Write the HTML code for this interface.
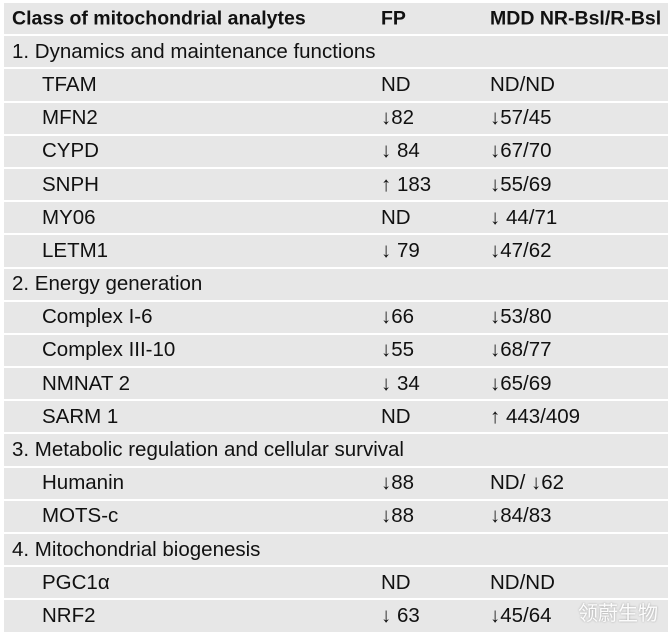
<!DOCTYPE html>
<html><head><meta charset="utf-8"><style>
body{margin:0;background:#fff;width:671px;height:636px;overflow:hidden;font-family:"Liberation Sans","Noto Sans CJK SC",sans-serif;}
.t{position:absolute;left:4px;top:3px;width:664px;}
.r{position:relative;height:31.2px;background:#e7e7e7;margin-bottom:2px;font-size:20.5px;color:#111;}
.r span{position:absolute;top:50%;transform:translateY(-50%);white-space:nowrap;}
.a{left:8px}.s{left:38px}.f{left:377px}.m{left:486px}
.h{font-weight:bold;font-size:19.5px;}
.wm{position:absolute;left:578px;top:597px;font-size:20px;color:#fff;opacity:.9;text-shadow:0 0 2px #999;}
</style></head><body>
<div class="t">
<div class="r h"><span class="a">Class of mitochondrial analytes</span><span class="f">FP</span><span class="m">MDD NR-Bsl/R-Bsl</span></div>
<div class="r"><span class="a">1. Dynamics and maintenance functions</span></div>
<div class="r"><span class="s">TFAM</span><span class="f">ND</span><span class="m">ND/ND</span></div>
<div class="r"><span class="s">MFN2</span><span class="f">↓82</span><span class="m">↓57/45</span></div>
<div class="r"><span class="s">CYPD</span><span class="f">↓ 84</span><span class="m">↓67/70</span></div>
<div class="r"><span class="s">SNPH</span><span class="f">↑ 183</span><span class="m">↓55/69</span></div>
<div class="r"><span class="s">MY06</span><span class="f">ND</span><span class="m">↓ 44/71</span></div>
<div class="r"><span class="s">LETM1</span><span class="f">↓ 79</span><span class="m">↓47/62</span></div>
<div class="r"><span class="a">2. Energy generation</span></div>
<div class="r"><span class="s">Complex I-6</span><span class="f">↓66</span><span class="m">↓53/80</span></div>
<div class="r"><span class="s">Complex III-10</span><span class="f">↓55</span><span class="m">↓68/77</span></div>
<div class="r"><span class="s">NMNAT 2</span><span class="f">↓ 34</span><span class="m">↓65/69</span></div>
<div class="r"><span class="s">SARM 1</span><span class="f">ND</span><span class="m">↑ 443/409</span></div>
<div class="r"><span class="a">3. Metabolic regulation and cellular survival</span></div>
<div class="r"><span class="s">Humanin</span><span class="f">↓88</span><span class="m">ND/ ↓62</span></div>
<div class="r"><span class="s">MOTS-c</span><span class="f">↓88</span><span class="m">↓84/83</span></div>
<div class="r"><span class="a">4. Mitochondrial biogenesis</span></div>
<div class="r"><span class="s">PGC1α</span><span class="f">ND</span><span class="m">ND/ND</span></div>
<div class="r"><span class="s">NRF2</span><span class="f">↓ 63</span><span class="m">↓45/64</span></div>
</div>
<div class="wm">领蔚生物</div>
</body></html>
